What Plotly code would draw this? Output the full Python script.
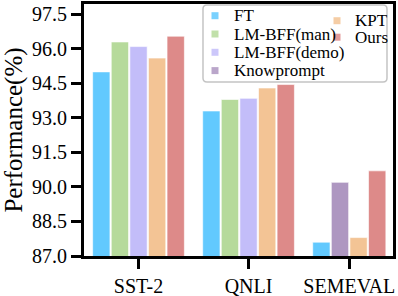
import plotly.graph_objects as go

categories = ["SST-2", "QNLI", "SEMEVAL"]
series_names = ["FT", "LM-BFF(man)", "LM-BFF(demo)", "Knowprompt", "KPT", "Ours"]
ft = [95.0, 93.3, 87.6]
lm_bff_man = [96.3, 93.8, None]
lm_bff_demo = [96.1, 93.85, None]
knowprompt = [None, None, 90.2]
kpt = [95.6, 94.3, 87.8]
ours = [96.55, 94.45, 90.7]
y_ticks = [87.0, 88.5, 90.0, 91.5, 93.0, 94.5, 96.0, 97.5]

series_values = [ft, lm_bff_man, lm_bff_demo, knowprompt, kpt, ours]
colors = ["#62C9FE", "#B6DA9B", "#C3BDF9", "#AE97C1", "#F3C495", "#DD8A89"]

GAP = 0.915      # gap between groups (in bar slots)
EDGE_L = 0.43
EDGE_R = 0.35
BAR_W = 0.93

# compact group layout: only present bars occupy slots
group_start = []
pos = 0.0
counts = []
for g in range(len(categories)):
    n = sum(1 for s in series_values if s[g] is not None)
    counts.append(n)
    group_start.append(pos)
    pos += n + GAP
total = pos - GAP
centers = [group_start[g] + counts[g] / 2 for g in range(len(categories))]

bar_x = {i: [] for i in range(len(series_names))}
bar_y = {i: [] for i in range(len(series_names))}
for g in range(len(categories)):
    k = 0
    for i, s in enumerate(series_values):
        if s[g] is not None:
            bar_x[i].append(group_start[g] + k + 0.5)
            bar_y[i].append(s[g])
            k += 1

fig = go.Figure()
for i, name in enumerate(series_names):
    fig.add_trace(go.Bar(
        x=bar_x[i], y=bar_y[i], width=BAR_W, name=name,
        marker=dict(color=colors[i], line=dict(color="rgba(255,255,255,0.6)", width=1)),
        showlegend=False,
    ))

W, H = 398, 296
ML, MR, MT, MB = 84, 5, 4, 40
pw, ph = W - ML - MR, H - MT - MB

def pxx(px):
    return (px - ML) / pw

def pxy(py):
    return (H - MB - py) / ph

# legend frame (rounded)
x0, y0, x1, y1 = 203, 5, 387, 82
r = 4
X0, X1 = pxx(x0), pxx(x1)
YT, YB = pxy(y0), pxy(y1)
rx, ry = r / pw, r / ph
path = (f"M{X0+rx:.5f},{YB:.5f} L{X1-rx:.5f},{YB:.5f} Q{X1:.5f},{YB:.5f} {X1:.5f},{YB+ry:.5f} "
        f"L{X1:.5f},{YT-ry:.5f} Q{X1:.5f},{YT:.5f} {X1-rx:.5f},{YT:.5f} L{X0+rx:.5f},{YT:.5f} "
        f"Q{X0:.5f},{YT:.5f} {X0:.5f},{YT-ry:.5f} L{X0:.5f},{YB+ry:.5f} Q{X0:.5f},{YB:.5f} {X0+rx:.5f},{YB:.5f} Z")
fig.add_shape(type="path", path=path, xref="paper", yref="paper",
              line=dict(color="#C4C4C4", width=1.5), fillcolor="rgba(255,255,255,0.8)",
              layer="above")

font = "Liberation Serif"

# legend entries (two columns, matplotlib-like)
legend_slots = [
    (215, 232, 15.7), (215, 232, 34.0), (215, 232, 52.3), (215, 232, 70.6),
    (337, 353, 20.7), (337, 353, 37.2),
]
ms = 3.5
for i, name in enumerate(series_names):
    mx, tx, ty = legend_slots[i]
    fig.add_shape(type="rect", xref="paper", yref="paper",
                  x0=pxx(mx - ms), x1=pxx(mx + ms), y0=pxy(ty + ms), y1=pxy(ty - ms),
                  line=dict(width=0), fillcolor=colors[i], opacity=0.85, layer="above")
    fig.add_annotation(text=name, xref="paper", yref="paper",
                       x=pxx(tx), y=pxy(ty), xanchor="left", yanchor="middle",
                       showarrow=False, font=dict(size=17, family=font, color="black"))

fig.update_layout(
    width=W, height=H,
    margin=dict(l=ML, r=MR, t=MT, b=MB, autoexpand=False),
    plot_bgcolor="white", paper_bgcolor="white",
    font=dict(family=font, color="black"),
    barmode="overlay", showlegend=False,
    xaxis=dict(
        range=[-EDGE_L, total + EDGE_R], automargin=False,
        tickvals=centers, ticktext=categories,
        showline=True, linewidth=3, linecolor="black", mirror=True,
        ticks="outside", ticklen=10, tickwidth=3, tickcolor="black",
        tickfont=dict(size=20, family=font), showgrid=False, zeroline=False,
    ),
    yaxis=dict(
        range=[87.0, 97.95], automargin=False,
        tickvals=y_ticks, tickformat=".1f",
        showline=True, linewidth=3, linecolor="black", mirror=True,
        ticks="outside", ticklen=10, tickwidth=3, tickcolor="black",
        tickfont=dict(size=20, family=font), showgrid=False, zeroline=False,
        title=dict(text="Performance(%)", font=dict(size=25, family=font), standoff=4),
    ),
)

fig.write_html("out.html", config={"displayModeBar": False},
               post_script="document.body.style.margin='0';")
